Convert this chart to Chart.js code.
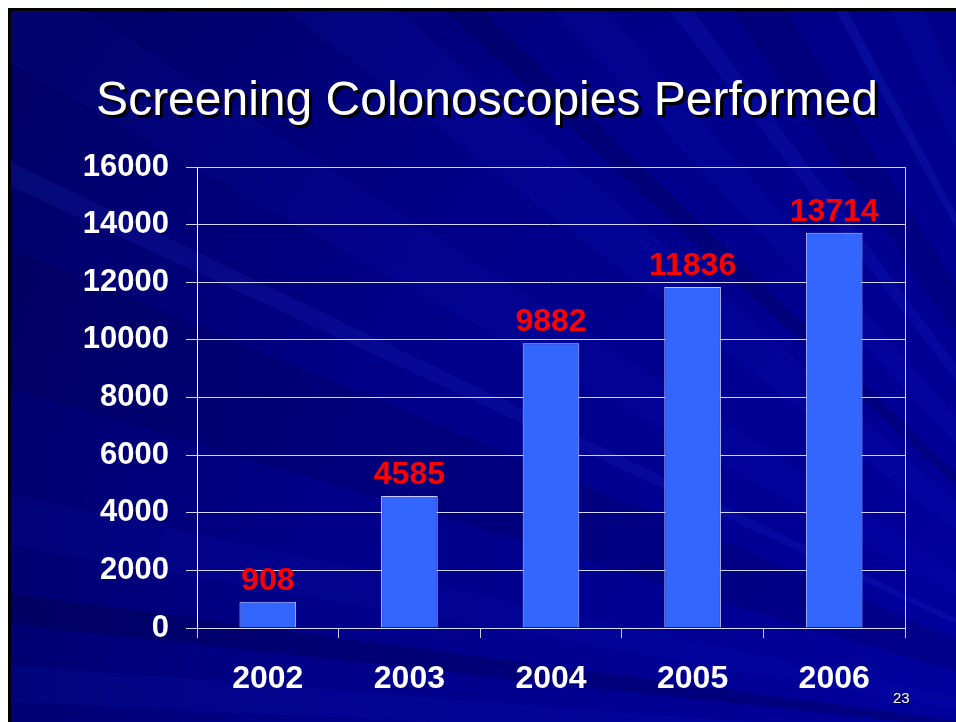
<!DOCTYPE html>
<html>
<head>
<meta charset="utf-8">
<title>Screening Colonoscopies Performed</title>
<script src="https://cdn.jsdelivr.net/npm/chart.js@4/dist/chart.umd.min.js"></script>
<style>
  html, body { margin: 0; padding: 0; background: #ffffff; }
  #wrap { position: relative; width: 956px; height: 722px; overflow: hidden; }
  #chart { position: absolute; left: 0; top: 0; }
  .slide-title {
    position: absolute; left: 487px; top: 75px; transform: translateX(-50%);
    font: 48px "Liberation Sans", Arial, sans-serif; line-height: 48px;
    color: #ffffff; white-space: nowrap; text-shadow: 3px 3px 0 #000000;
  }
  .page-num {
    position: absolute; left: 893px; top: 690px;
    font: 15px "Liberation Sans", Arial, sans-serif; line-height: 15px;
    color: #ffffff; text-shadow: 1px 1px 0 #000000;
  }
</style>
</head>
<body>
<div id="wrap">
  <canvas id="chart" width="956" height="722"></canvas>
  <div class="slide-title">Screening Colonoscopies Performed</div>
  <div class="page-num">23</div>
</div>
<script>
  // Chart data.
  var years = ['2002', '2003', '2004', '2005', '2006'];
  var colonoscopies = [908, 4585, 9882, 11836, 13714];
  var yTicks = [0, 2000, 4000, 6000, 8000, 10000, 12000, 14000, 16000];

  /**
   * Slide background: dark blue with faint streaks, plus the frame edge.
   */
  var slideBackground = {
    id: 'slideBackground',
    beforeDraw: function (chart) {
      var ctx = chart.ctx;
      var w = chart.width;
      var h = chart.height;
      ctx.save();

      var bg = ctx.createRadialGradient(w * 1.1, h * 0.95, 50, w * 1.1, h * 0.95, w * 1.4);
      bg.addColorStop(0, '#00009e');
      bg.addColorStop(0.55, '#000088');
      bg.addColorStop(1, '#00005c');
      ctx.fillStyle = bg;
      ctx.fillRect(0, 0, w, h);

      // Streaks fanning out from a point off the lower right.
      var cx = 1250, cy = 760;
      var rays = [
        [-2.45, 0.030, 'rgba(30,50,255,0.07)'],
        [-2.38, 0.012, 'rgba(0,0,40,0.18)'],
        [-2.30, 0.020, 'rgba(30,50,255,0.07)'],
        [-2.22, 0.010, 'rgba(50,80,255,0.10)'],
        [-2.15, 0.025, 'rgba(0,0,50,0.15)'],
        [-2.07, 0.006, 'rgba(60,90,255,0.12)'],
        [-2.00, 0.018, 'rgba(30,50,255,0.07)'],
        [-2.80, 0.050, 'rgba(0,0,50,0.15)'],
        [-2.95, 0.020, 'rgba(30,50,255,0.06)'],
        [-3.02, 0.012, 'rgba(0,0,40,0.22)'],
        [-3.08, 0.015, 'rgba(30,60,255,0.07)'],
        [-2.70, 0.008, 'rgba(60,90,255,0.10)'],
        [-2.60, 0.030, 'rgba(30,50,255,0.06)']
      ];
      rays.forEach(function (r) {
        var len = 2000;
        ctx.beginPath();
        ctx.moveTo(cx, cy);
        ctx.lineTo(cx + Math.cos(r[0] - r[1]) * len, cy + Math.sin(r[0] - r[1]) * len);
        ctx.lineTo(cx + Math.cos(r[0] + r[1]) * len, cy + Math.sin(r[0] + r[1]) * len);
        ctx.closePath();
        ctx.fillStyle = r[2];
        ctx.fill();
      });

      // Frame edge top/left.
      ctx.fillStyle = '#ffffff';
      ctx.fillRect(0, 0, w, 8);
      ctx.fillRect(0, 0, 8, h);
      ctx.fillStyle = '#000000';
      ctx.fillRect(8, 8, w - 8, 3);
      ctx.fillRect(8, 8, 3, h - 8);
      ctx.restore();
    }
  };

  /**
   * Right edge of the plot box.
   */
  var plotFrame = {
    id: 'plotFrame',
    afterDraw: function (chart) {
      var a = chart.chartArea;
      var ctx = chart.ctx;
      ctx.save();
      ctx.strokeStyle = 'rgba(230,232,255,0.9)';
      ctx.lineWidth = 1;
      ctx.beginPath();
      ctx.moveTo(Math.round(a.right) + 0.5, a.top);
      ctx.lineTo(Math.round(a.right) + 0.5, a.bottom);
      ctx.stroke();
      ctx.restore();
    }
  };

  /**
   * Red value labels above each bar.
   */
  var valueLabels = {
    id: 'valueLabels',
    afterDatasetsDraw: function (chart) {
      var ctx = chart.ctx;
      var meta = chart.getDatasetMeta(0);
      ctx.save();
      ctx.font = 'bold 32px "Liberation Sans", Arial, sans-serif';
      ctx.fillStyle = '#ff0000';
      ctx.textAlign = 'center';
      ctx.textBaseline = 'alphabetic';
      meta.data.forEach(function (bar, i) {
        ctx.fillText(String(chart.data.datasets[0].data[i]), bar.x, bar.y - 12);
      });
      ctx.restore();
    }
  };

  var ctx = document.getElementById('chart');

  new Chart(ctx, {
    type: 'bar',
    data: {
      labels: years,
      datasets: [{
        data: colonoscopies,
        backgroundColor: '#3366ff',
        borderColor: '#c4c8ff',
        borderWidth: 1,
        categoryPercentage: 0.8,
        barPercentage: 0.5
      }]
    },
    options: {
      responsive: false,
      animation: false,
      devicePixelRatio: 1,
      layout: { padding: { top: 167, right: 51, left: 0, bottom: 0 } },
      plugins: {
        legend: { display: false },
        tooltip: { enabled: false }
      },
      scales: {
        y: {
          min: 0,
          max: 16000,
          afterBuildTicks: function (scale) {
            scale.ticks = yTicks.map(function (v) { return { value: v }; });
          },
          afterFit: function (scale) { scale.width = 197; },
          ticks: {
            color: '#ffffff',
            padding: 17,
            callback: function (value) { return String(value); },
            font: { family: '"Liberation Sans", Arial, sans-serif', size: 31, weight: 'bold' }
          },
          grid: { color: 'rgba(235,235,255,0.9)', lineWidth: 1, tickLength: 11 },
          border: { color: '#ffffff', width: 1 }
        },
        x: {
          afterFit: function (scale) { scale.height = 94; },
          ticks: {
            color: '#ffffff',
            padding: 22,
            font: { family: '"Liberation Sans", Arial, sans-serif', size: 32, weight: 'bold' }
          },
          grid: {
            offset: true,
            drawOnChartArea: false,
            drawTicks: true,
            tickLength: 10,
            color: 'rgba(220,222,255,0.9)'
          },
          border: { color: 'rgba(220,222,255,0.9)', width: 1 }
        }
      }
    },
    plugins: [slideBackground, plotFrame, valueLabels]
  });
</script>
</body>
</html>
